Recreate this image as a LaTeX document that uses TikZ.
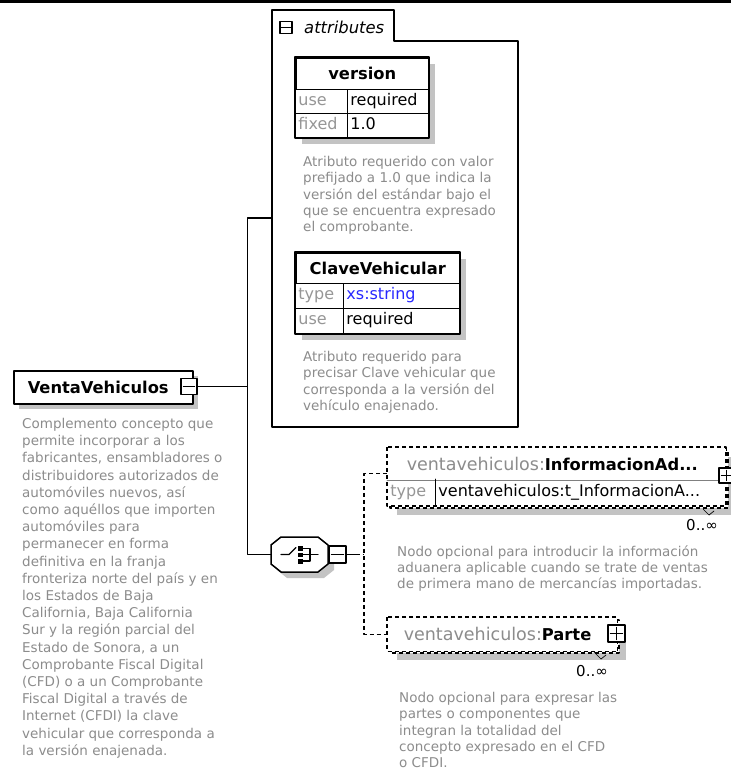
\documentclass[tikz,border=0pt]{standalone}
\usepackage{fontspec}
\setmainfont{DejaVu Sans}
\usetikzlibrary{positioning}

\definecolor{descgray}{RGB}{140,140,140}
\definecolor{keygray}{RGB}{150,150,150}
\definecolor{shadowgray}{RGB}{195,195,195}
\definecolor{typeblue}{RGB}{40,40,255}

\newcommand{\descfont}{\fontsize{13.5}{16.3}\selectfont}
\newcommand{\titlefont}{\bfseries\fontsize{16.3}{19}\selectfont}
\newcommand{\cellfont}{\fontsize{16}{19}\selectfont}
\newcommand{\prefix}{\textcolor{descgray}{\mdseries\fontsize{17.5}{19}\selectfont ventavehiculos:}}

\tikzset{
  octagon/.pic={\path[pic actions] (-18.5,-17.5) -- (18.5,-17.5) -- (28.5,-9.5) -- (28.5,9.5) -- (18.5,17.5) -- (-18.5,17.5) -- (-28.5,9.5) -- (-28.5,-9.5) -- cycle;}
}

\begin{document}
\begin{tikzpicture}[x=1pt,y=-1pt,line cap=round,line join=round,
  elembox/.style={draw, line width=1.5pt, fill=white, inner sep=0, anchor=north west},
  titlecell/.style={elembox, font=\titlefont},
  keycell/.style={draw, line width=0.9pt, fill=white, inner ysep=0, inner xsep=3pt, anchor=north west,
    align=left, text width=#1, text height=12, text depth=4, font=\cellfont, text=keygray},
  valcell/.style={keycell=#1, text=black},
  desc/.style={anchor=north west, inner sep=0, align=left, font=\descfont, text=descgray},
  shadowfill/.style={fill=shadowgray},
  optline/.style={dash pattern=on 4pt off 3pt, line width=1.3pt, line cap=butt},
  connector/.style={line width=1.5pt},
  iconbox/.style={draw, line width=1.2pt, fill=white, inner sep=0, minimum size=#1},
  countlabel/.style={anchor=east, inner sep=0, font=\fontsize{15}{17}\selectfont}
]
\useasboundingbox (0,0) rectangle (731,774);
\fill (0,0) rectangle (731,2.5);

% attributes
\draw[line width=1.5pt, fill=white] (272,427) -- (272,10) -- (394,10) -- (394,41) -- (518,41) -- (518,427) -- cycle;
\coordinate (attrs) at (272,218);
\node[iconbox=12] (attrminus) at (286,27.5) {};
\draw[line width=1.2pt] ([xshift=2]attrminus.west) -- ([xshift=-2]attrminus.east);
\node[anchor=west, inner sep=0, font=\itshape\fontsize{16.4}{19}\selectfont] (attrlabel) at (304,27) {attributes};

\fill[shadowfill] (302,64) rectangle (435,144);
\node[titlecell, minimum width=133, minimum height=32] (version) at (295,57) {version};
\node[keycell=46, minimum height=24] (versionuse) at (295,89) {use};
\node[valcell=75, minimum height=24] (versionusev) at (347,89) {required};
\node[keycell=46, minimum height=24] (versionfixed) at (295,113) {fixed};
\node[valcell=75, minimum height=24] (versionfixedv) at (347,113) {1.0};
\draw[line width=1.6pt] (version.north west) rectangle (versionfixedv.south east);
\node[desc] (versiondesc) at (303,156) {Atributo requerido con valor\\prefijado a 1.0 que indica la\\versión del estándar bajo el\\que se encuentra expresado\\el comprobante.};

\fill[shadowfill] (302,259) rectangle (466,340);
\node[titlecell, minimum width=164, minimum height=31] (clave) at (295,252) {ClaveVehicular};
\node[keycell=42, minimum height=25] (clavetype) at (295,283) {type};
\node[valcell=110, minimum height=25, text=typeblue] (clavetypev) at (343,283) {xs:string};
\node[keycell=42, minimum height=25] (claveuse) at (295,308) {use};
\node[valcell=110, minimum height=25] (claveusev) at (343,308) {required};
\draw[line width=1.6pt] (clave.north west) rectangle (claveusev.south east);
\node[desc] (clavedesc) at (303,351) {Atributo requerido para\\precisar Clave vehicular que\\corresponda a la versión del\\vehículo enajenado.};

% root element
\fill[shadowfill] (19,376) rectangle (198,409);
\node[titlecell, minimum width=179, minimum height=33, text width=151, inner xsep=14, align=left] (vv) at (13,370) {VentaVehiculos};
\node[iconbox=16] (vvminus) at (189,386.5) {};
\draw[line width=1.2pt] ([xshift=3]vvminus.west) -- ([xshift=-3]vvminus.east);
\node[desc, font=\fontsize{13.5}{17.2}\selectfont] (vvdesc) at (22,418) {Complemento concepto que\\permite incorporar a los\\fabricantes, ensambladores o\\distribuidores autorizados de\\automóviles nuevos, así\\como aquéllos que importen\\automóviles para\\permanecer en forma\\definitiva en la franja\\fronteriza norte del país y en\\los Estados de Baja\\California, Baja California\\Sur y la región parcial del\\Estado de Sonora, a un\\Comprobante Fiscal Digital\\(CFD) o a un Comprobante\\Fiscal Digital a través de\\Internet (CFDI) la clave\\vehicular que corresponda a\\la versión enajenada.};

% choice
\pic[shadowfill] at (305.5,560.5) {octagon};
\pic[draw, line width=1.5pt, fill=white] at (299.5,554.5) {octagon};
\node[minimum width=57, minimum height=35, inner sep=0] (choice) at (299.5,554.5) {};
\draw[line width=1.2pt] (281,554.5) -- (289,554.5) -- (296,547.5);
\fill (298,546) rectangle (303,550.5);
\fill (298,552.5) rectangle (303,557);
\fill (298,559) rectangle (303,563.5);
\draw[line width=1.2pt] (303,548.5) -- (310,548.5) -- (310,561) -- (303,561) (303,554.5) -- (318,554.5);
\node[iconbox=17] (choiceminus) at (337.5,554.5) {};
\draw[line width=1.2pt] ([xshift=3]choiceminus.west) -- ([xshift=-3]choiceminus.east);

\draw[connector] (vvminus.east) -- ++(50,0) coordinate (fork) |- (attrs);
\draw[connector] (fork) |- (choice.west);

% InformacionAduanera
\fill[shadowfill] (397,457) rectangle (735,515);
\draw[optline, fill=white] (390,450) rectangle (728,508);
\node[titlecell, draw=none, minimum width=338, minimum height=32, text width=300, inner xsep=19, align=left] (info) at (387,447) {\prefix InformacionAd...};
\node[keycell=42, draw=none, minimum height=26] (infotype) at (387,479) {type};
\node[valcell=284, draw=none, minimum height=26] (infotypev) at (435,479) {ventavehiculos:t\_InformacionA...};
\draw[optline] (info.north west) rectangle (infotypev.south east);
\draw[line width=0.9pt, gray] (info.south west) -- (info.south east);
\draw[line width=0.9pt] (infotypev.north west) -- (infotypev.south west);
\node[iconbox=15] (infoplus) at (726.5,475.5) {};
\draw[line width=1.2pt] ([xshift=3]infoplus.west) -- ([xshift=-3]infoplus.east) ([yshift=3]infoplus.south) -- ([yshift=-3]infoplus.north);
\draw[line width=0.7pt] (703,509) -- (709,515) -- (714,511);
\node[countlabel] (infocount) at (718,525) {0..∞};
\node[desc] (infodesc) at (397,545) {Nodo opcional para introducir la información\\aduanera aplicable cuando se trate de ventas\\de primera mano de mercancías importadas.};

% Parte
\fill[shadowfill] (397,627) rectangle (626,660);
\draw[optline, fill=white] (390,620) rectangle (619,653);
\node[titlecell, draw=none, minimum width=229, minimum height=33, text width=197, inner xsep=16, align=left] (parte) at (387,617) {\prefix Parte};
\draw[optline] (parte.north west) rectangle (parte.south east);
\node[iconbox=17] (parteplus) at (616.5,633.5) {};
\draw[line width=1.2pt] ([xshift=3]parteplus.west) -- ([xshift=-3]parteplus.east) ([yshift=3]parteplus.south) -- ([yshift=-3]parteplus.north);
\draw[line width=0.7pt] (593,651) -- (601,659) -- (606,655);
\node[countlabel] (partecount) at (608,671) {0..∞};
\node[desc] (partedesc) at (399,692) {Nodo opcional para expresar las\\partes o componentes que\\integran la totalidad del\\concepto expresado en el CFD\\o CFDI.};

\coordinate (bar) at (364,554.5);
\draw[connector] (choiceminus.east) -- ++(9,0);
\draw[optline] (choiceminus.east) ++(9,0) -- (bar);
\draw[optline] ([yshift=-10]info.west) -| (bar) |- (parte.west);
\end{tikzpicture}
\end{document}
